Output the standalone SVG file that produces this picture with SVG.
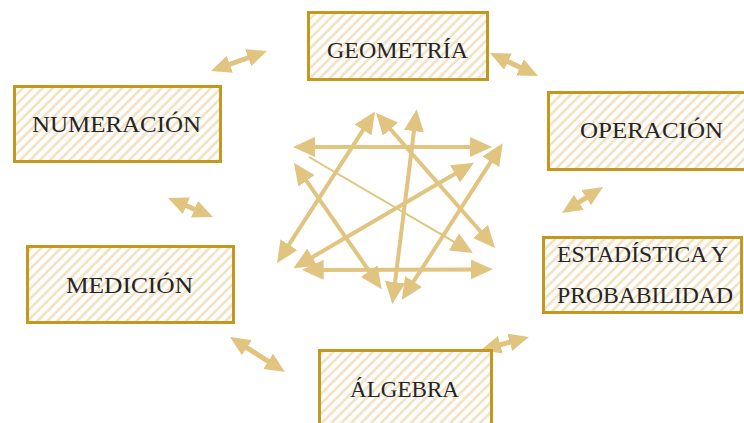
<svg xmlns="http://www.w3.org/2000/svg" width="744" height="423" viewBox="0 0 744 423">
<style>
.box{fill:url(#hatch);stroke:#c4981e;stroke-width:3}
.lbl{font-family:"Liberation Serif","DejaVu Serif",serif;font-size:24px;fill:#262424}
.ca{stroke:#e0c47f;stroke-width:4;fill:none;marker-start:url(#h);marker-end:url(#h)}
.thin{stroke:#e0c47f;stroke-width:2;fill:none;marker-end:url(#h)}
.oa{stroke:#e0c47f;stroke-width:5;fill:none;marker-start:url(#h2);marker-end:url(#h2)}
</style>
<defs>
<pattern id="hatch" width="7" height="7" patternUnits="userSpaceOnUse" patternTransform="rotate(45)">
<rect width="7" height="7" fill="#ffffff"/>
<line x1="1.5" y1="0" x2="1.5" y2="7" stroke="#f1dfbd" stroke-width="2.4"/>
</pattern>
<marker id="h" viewBox="0 0 22 20" refX="10" refY="10" markerWidth="22" markerHeight="20" markerUnits="userSpaceOnUse" orient="auto-start-reverse">
<path d="M0,0 L22,10 L0,20 z" fill="#e0c47f"/>
</marker>
<marker id="h2" viewBox="0 0 20 18" refX="8" refY="9" markerWidth="20" markerHeight="18" markerUnits="userSpaceOnUse" orient="auto-start-reverse">
<path d="M0,0 L20,9 L0,18 z" fill="#e0c47f"/>
</marker>
</defs>
<g id="connectors">
<line class="oa" x1="222.3" y1="67" x2="255.7" y2="55"/>
<line class="oa" x1="500.8" y1="58.2" x2="527.2" y2="70.8"/>
<line class="oa" x1="179.1" y1="202.7" x2="201.9" y2="212.3"/>
<line class="oa" x1="572.1" y1="206.6" x2="592.9" y2="193.4"/>
<line class="oa" x1="240.1" y1="343.4" x2="274.9" y2="365.6"/>
<line class="oa" x1="492.6" y1="346.9" x2="517.4" y2="340.1"/>
<line class="ca" x1="305" y1="147" x2="480" y2="147"/>
<line class="ca" x1="313.7" y1="269.9" x2="480.7" y2="269.4"/>
<line class="thin" x1="309" y1="157" x2="462.6" y2="246.9"/>
<line class="ca" x1="283.5" y1="253.2" x2="368.5" y2="121.6"/>
<line class="ca" x1="383.9" y1="121.7" x2="487.1" y2="239"/>
<line class="ca" x1="300.8" y1="172.6" x2="374.9" y2="279.4"/>
<line class="ca" x1="415.2" y1="121.2" x2="393.8" y2="292.1"/>
<line class="ca" x1="303.7" y1="262.2" x2="463.6" y2="168.8"/>
<line class="ca" x1="408.2" y1="289.9" x2="496.2" y2="153.4"/>
</g>
<g id="geometria">
<rect class="box" x="308.5" y="12.5" width="179" height="67"/>
<text class="lbl" x="397.5" y="58" text-anchor="middle" textLength="141" lengthAdjust="spacingAndGlyphs">GEOMETRÍA</text>
</g>
<g id="numeracion">
<rect class="box" x="14.5" y="86.5" width="206" height="75"/>
<text class="lbl" x="116.5" y="132" text-anchor="middle" textLength="169" lengthAdjust="spacingAndGlyphs">NUMERACIÓN</text>
</g>
<g id="operacion">
<rect class="box" x="548.5" y="92.5" width="205" height="77"/>
<text class="lbl" x="651.5" y="138" text-anchor="middle" textLength="143" lengthAdjust="spacingAndGlyphs">OPERACIÓN</text>
</g>
<g id="estadistica">
<rect class="box" x="543.5" y="237.5" width="198" height="75"/>
<text class="lbl" x="642.5" y="262" text-anchor="middle" textLength="171" lengthAdjust="spacingAndGlyphs">ESTADÍSTICA Y</text>
<text class="lbl" x="645" y="303" text-anchor="middle" textLength="176" lengthAdjust="spacingAndGlyphs">PROBABILIDAD</text>
</g>
<g id="medicion">
<rect class="box" x="27.5" y="246.5" width="206" height="76"/>
<text class="lbl" x="129.5" y="293" text-anchor="middle" textLength="127" lengthAdjust="spacingAndGlyphs">MEDICIÓN</text>
</g>
<g id="algebra">
<rect class="box" x="319.5" y="350.5" width="172" height="85"/>
<text class="lbl" x="404.5" y="397" text-anchor="middle" textLength="109" lengthAdjust="spacingAndGlyphs">ÁLGEBRA</text>
</g>
</svg>
